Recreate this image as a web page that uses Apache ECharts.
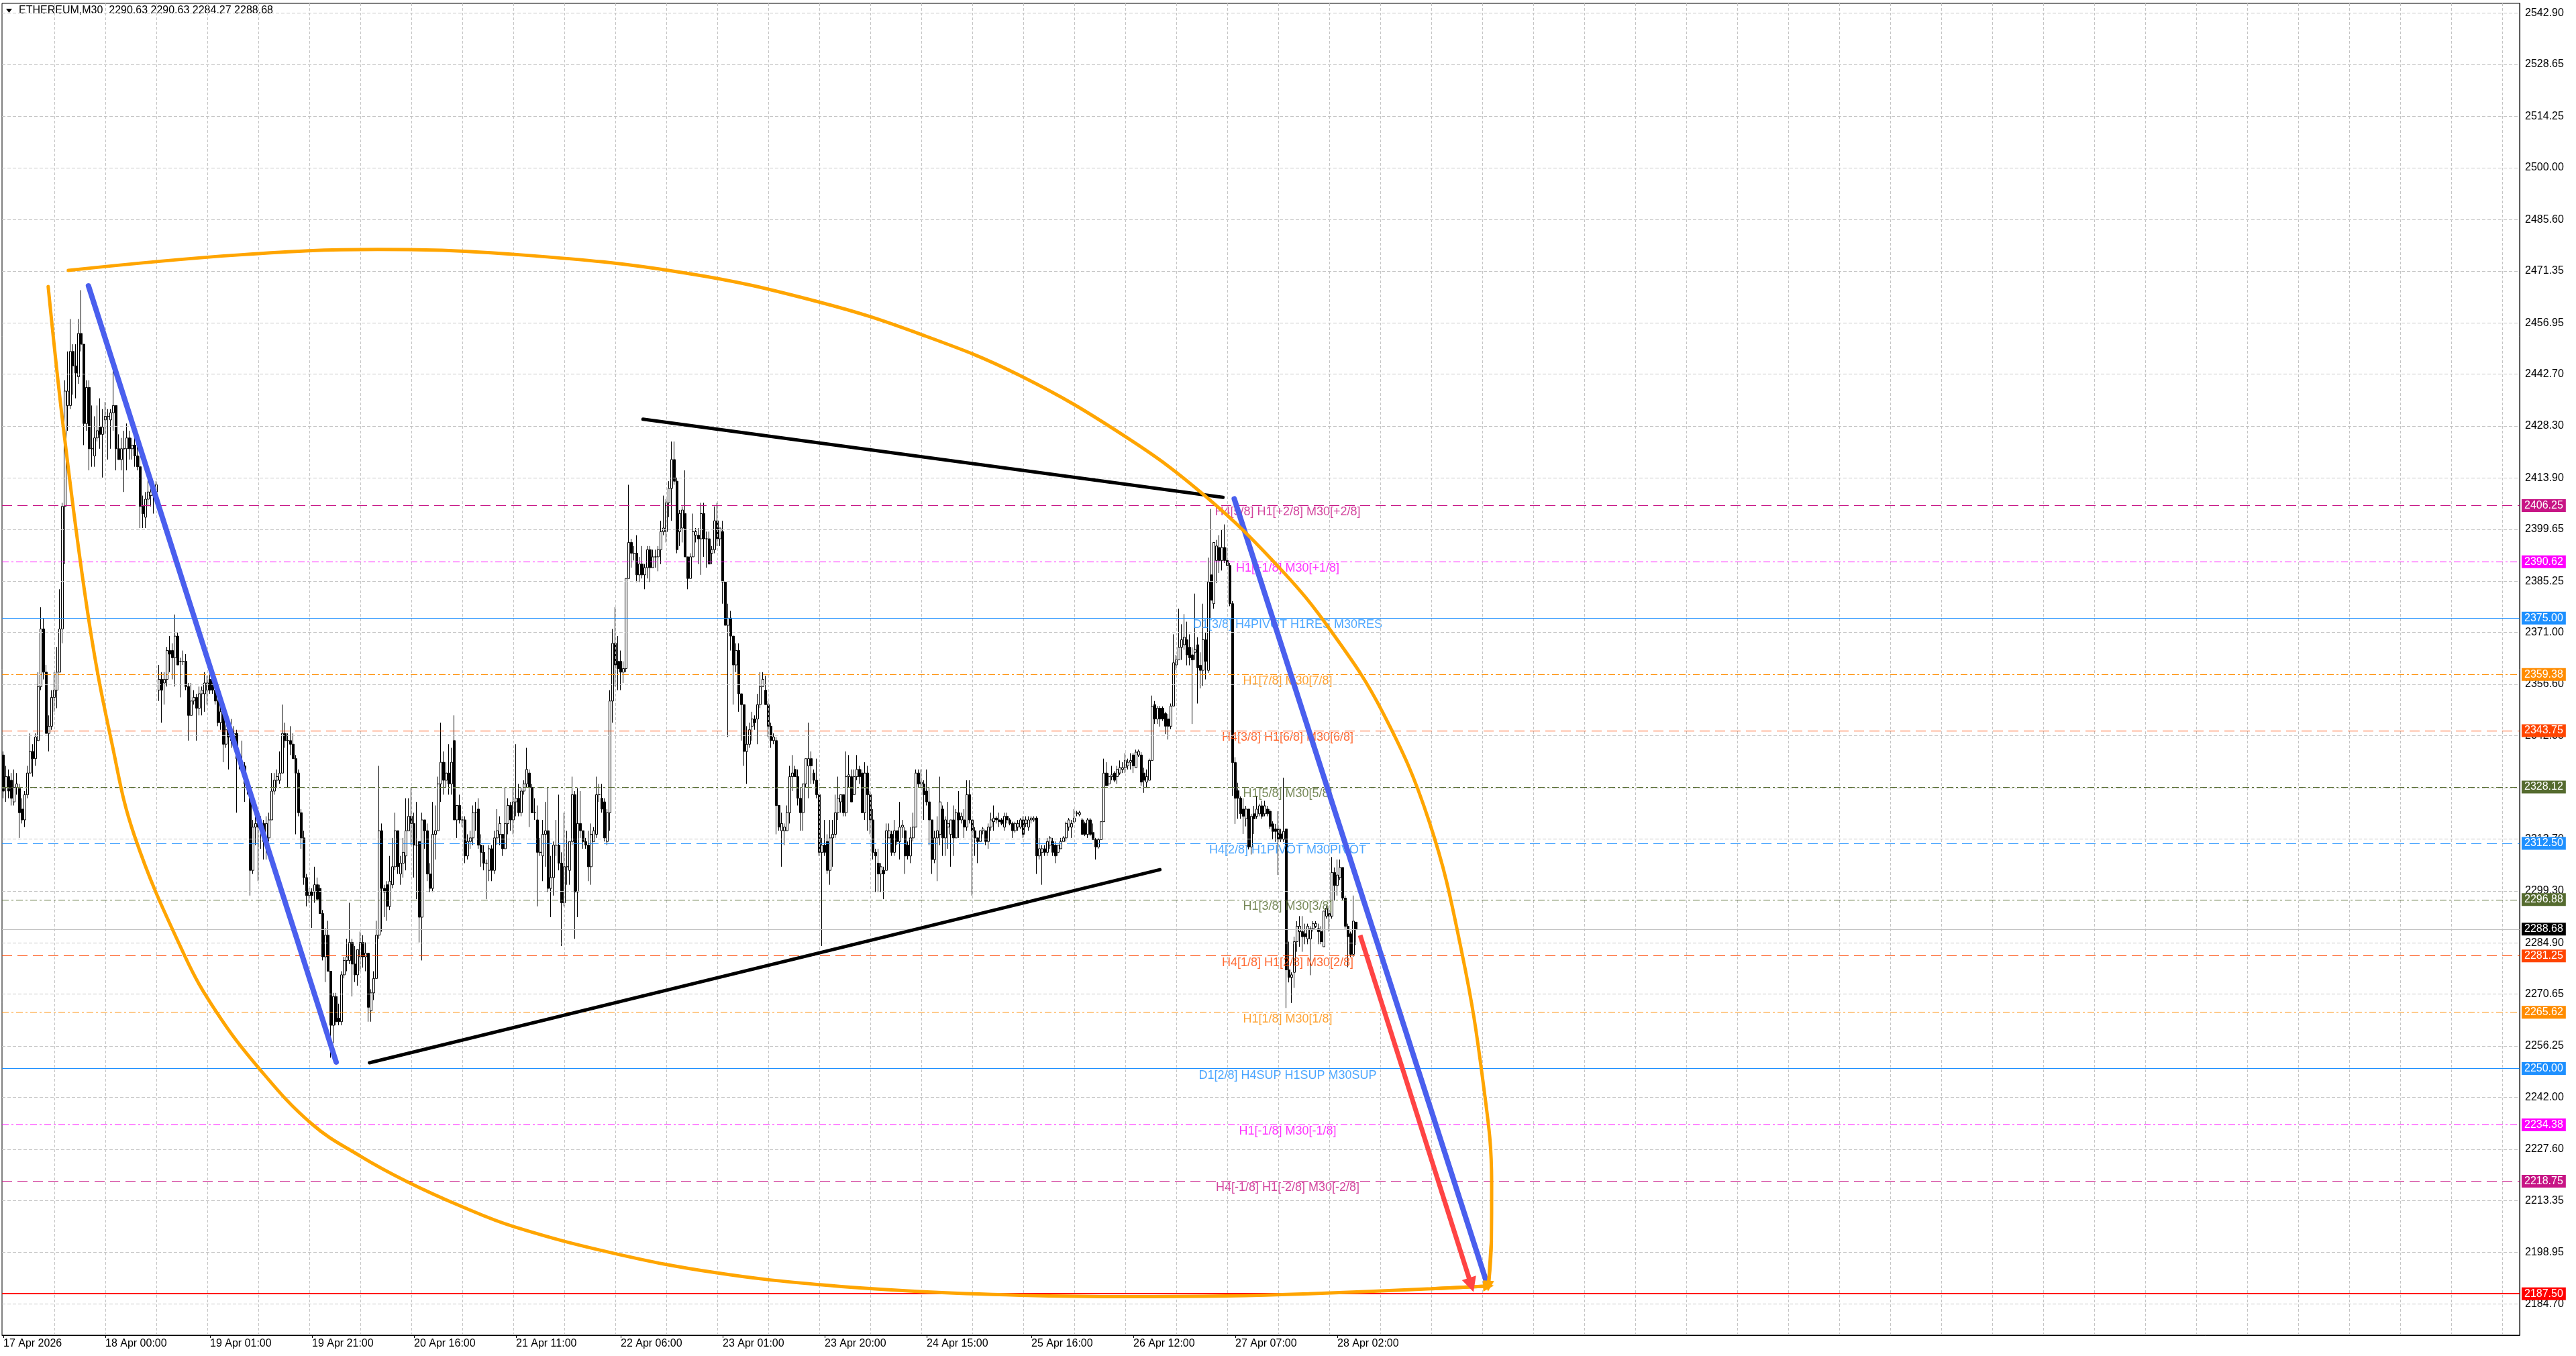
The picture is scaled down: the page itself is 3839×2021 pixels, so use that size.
<!DOCTYPE html>
<html>
<head>
<meta charset="utf-8">
<title>ETHEREUM,M30</title>
<script src="https://cdn.jsdelivr.net/npm/echarts@6/dist/echarts.min.js"></script>
<style>
  html, body { margin: 0; padding: 0; background: #fff; overflow: hidden; }
  #chart { width: 3839px; height: 2021px; }
</style>
</head>
<body>
<div id="chart"></div>
<script>
// ETHEREUM M30 chart with murrey-style levels and hand drawn trend objects

const symbolName = 'ETHEREUM,M30';

// M30 bars, 17 Apr 2026 -> 28 Apr 2026 (20 bars per row)
const opens = [
  2337,2328,2331,2330,2324,2328,2328,2322,2319,2326,2332,2338,2336,2341,2356,2372,2360,2343,2345,2353,
  2355,2360,2372,2406,2434,2434,2449,2445,2442,2454,2451,2429,2439,2422,2420,2425,2428,2426,2430,2431,
  2430,2432,2434,2422,2419,2422,2422,2425,2422,2423,2420,2417,2406,2403,2408,2409,2409,2410,2355,2358,
  2357,2358,2366,2366,2364,2370,2363,2363,2363,2356,2348,2352,2353,2350,2354,2354,2355,2358,2358,2355,
  2352,2346,2349,2340,2344,2343,2341,2343,2336,2335,2334,2329,2328,2305,2317,2320,2316,2318,2313,2314,
  2319,2327,2330,2330,2332,2343,2341,2341,2340,2336,2332,2321,2314,2303,2298,2299,2299,2301,2300,2293,
  2281,2287,2277,2262,2270,2264,2263,2276,2280,2280,2285,2279,2276,2281,2285,2281,2282,2266,2271,2275,
  2287,2316,2300,2301,2295,2301,2306,2316,2304,2307,2309,2316,2320,2318,2312,2313,2292,2319,2316,2304,
  2300,2315,2316,2329,2335,2330,2332,2329,2341,2319,2323,2319,2319,2309,2313,2314,2321,2322,2312,2310,
  2307,2305,2311,2305,2314,2315,2315,2311,2318,2323,2319,2324,2325,2321,2327,2329,2332,2328,2321,2319,
  2310,2309,2315,2316,2300,2303,2312,2312,2307,2296,2306,2305,2313,2326,2299,2318,2316,2313,2312,2306,
  2313,2315,2326,2325,2324,2313,2321,2352,2368,2363,2363,2360,2361,2386,2396,2393,2393,2387,2390,2387,
  2389,2394,2389,2392,2392,2394,2399,2399,2407,2411,2419,2413,2399,2400,2404,2392,2386,2392,2398,2398,
  2397,2404,2397,2397,2393,2394,2402,2397,2399,2385,2373,2375,2370,2362,2366,2354,2351,2338,2340,2345,
  2347,2347,2351,2356,2355,2351,2345,2341,2341,2323,2316,2316,2316,2321,2331,2333,2331,2325,2321,2329,
  2334,2336,2332,2330,2326,2310,2312,2313,2305,2314,2315,2321,2324,2326,2321,2331,2331,2326,2331,2333,
  2332,2321,2332,2326,2319,2310,2307,2304,2305,2305,2314,2315,2310,2316,2313,2317,2316,2312,2309,2314,
  2317,2332,2329,2329,2327,2324,2319,2308,2314,2315,2322,2314,2317,2315,2319,2314,2321,2319,2319,2317,
  2326,2319,2316,2314,2313,2316,2316,2313,2317,2318.5,2319.5,2319,2319,2317,2320,2319,2318,2316,2317,2317,
  2319,2318,2317,2319,2319,2319.5,2309,2310,2311,2310,2312,2313,2312,2310,2311,2313,2314,2317,2317,2318.5,
  2320.8,2320.5,2319,2318,2315,2319,2315.5,2313.5,2311.5,2313.5,2318.5,2332,2329,2331,2332,2331,2332,2333,2333.5,2334,
  2335,2337,2333.5,2337,2337,2332,2329.5,2330,2335.5,2351,2347,2350,2350,2348.5,2347,2345,2350.6,2362,2363.4,2366.9,
  2367.6,2369,2366.9,2364.8,2365.5,2367.6,2361.9,2360.5,2369,2360.5,2387,2379,2391,2394.6,2391,2394.6,2391,2389.6,2379,2334.9,
  2327.1,2325,2322,2319.3,2322,2311.5,2320.7,2320,2320.7,2322.9,2320.7,2322,2321.4,2317.9,2316.5,2316.5,2315.1,2313.6,2316.5,2277.4,
  2275.3,2276.7,2285.2,2288,2288,2287.4,2286,2286,2288.8,2289.5,2288.8,2288,2283.8,2292.3,2293,2292.3,2304.4,2300.8,2303,2305.8,
  2297.3,2289.5,2287.4,2281.7,2290.63
];
const closes = [
  2327,2331,2327,2325,2328,2329,2321,2319,2326,2332,2338,2336,2342,2356,2372,2360,2343,2345,2353,2355,
  2360,2372,2406,2438,2438,2449,2445,2443,2454,2451,2429,2439,2422,2422,2425,2427,2426,2428,2431,2431,
  2432,2434,2422,2419,2422,2422,2425,2422,2423,2420,2417,2406,2404,2408,2410,2410,2409,2412,2358,2355,
  2358,2366,2365,2364,2370,2362,2363,2363,2356,2348,2352,2353,2350,2354,2355,2357,2357,2355,2355,2352,
  2346,2349,2340,2344,2342,2341,2343,2336,2335,2333,2329,2328,2305,2317,2318,2317,2318,2313,2318,2319,
  2327,2330,2331,2332,2343,2341,2341,2340,2336,2332,2321,2314,2303,2298,2299,2298,2301,2297,2293,2281,
  2287,2277,2262,2270,2263,2263,2276,2280,2281,2285,2279,2276,2283,2285,2281,2282,2267,2271,2275,2287,
  2316,2300,2299,2295,2302,2306,2316,2306,2307,2310,2316,2320,2318,2312,2312,2292,2319,2316,2304,2300,
  2315,2316,2329,2335,2330,2332,2329,2335,2319,2323,2319,2319,2309,2313,2314,2321,2321,2312,2310,2307,
  2307,2311,2305,2314,2316,2318,2311,2318,2323,2319,2324,2325,2321,2327,2329,2333,2328,2321,2321,2310,
  2310,2315,2316,2300,2303,2312,2312,2307,2296,2306,2306,2313,2326,2299,2318,2316,2313,2312,2306,2315,
  2316,2326,2326,2322,2314,2321,2352,2368,2362,2361,2360,2361,2386,2396,2393,2393,2387,2390,2387,2389,
  2394,2389,2392,2392,2394,2399,2400,2407,2411,2419,2413,2394,2404,2405,2392,2386,2392,2399,2399,2397,
  2404,2397,2397,2390,2394,2402,2397,2400,2385,2373,2375,2370,2362,2366,2354,2351,2338,2340,2344,2347,
  2346,2351,2356,2358,2351,2345,2341,2342,2323,2317,2318,2317,2321,2331,2332,2331,2325,2321,2329,2336,
  2336,2334,2330,2326,2310,2312,2310,2305,2314,2315,2321,2325,2326,2321,2331,2331.5,2324,2331,2333,2331,
  2321,2332,2326,2319,2310,2309,2304,2306,2304,2316,2316,2310,2316,2313,2317,2317.5,2309,2309,2314,2317,
  2332,2329,2329.5,2326,2324,2319,2308,2314,2316,2324,2314,2319,2318,2319,2314,2321,2319,2320,2317,2326,
  2319,2316,2314,2313,2316,2316.5,2313,2317,2319,2319.5,2319,2318.5,2318,2320,2319,2318,2316,2318,2318,2319,
  2315,2319,2319,2319.5,2319.5,2309,2311,2311,2310,2313,2314,2310,2309,2312,2313,2314,2318,2319,2318,2319.5,
  2321,2321,2315,2315,2319,2315,2313.5,2311.5,2313.5,2318.5,2332,2328.5,2331,2331.5,2330,2333,2333.5,2333.5,2335.5,2335,
  2335.5,2334,2337.8,2338,2329.5,2330,2331,2335.5,2350.5,2347,2350,2347,2347,2345,2345,2350.6,2362.6,2363.4,2366.9,2369,
  2369.7,2364.8,2364,2363.4,2366.2,2361.2,2360.5,2369,2363,2385,2380,2396,2395,2391,2394.6,2391,2389.6,2379,2334.9,2325,
  2325,2320.7,2320,2322,2311.5,2320,2319.3,2322,2322.9,2320,2322.9,2320.7,2317.2,2315.8,2315.8,2313.6,2313.6,2315.8,2277.4,2275.3,
  2276,2285.2,2289.5,2289.5,2286.6,2286.6,2289.5,2288.8,2290.2,2290.2,2288,2285.2,2293.7,2294.5,2292.3,2304.4,2300.8,2303.7,2305.8,2297.3,
  2289.5,2286.6,2281.7,2290.9,2288.68
];
const lows = [
  2325,2324,2325,2323,2323,2326,2314,2318,2317,2325,2332,2331,2334,2341,2355,2358,2343,2338,2344,2349,
  2350,2360,2368,2390,2427,2433,2437,2436,2440,2449,2423,2427,2416,2417,2417,2424,2422,2414,2426,2419,
  2422,2427,2416,2419,2416,2410,2416,2419,2419,2417,2416,2400,2400,2400,2406,2406,2404,2409,2352,2346,
  2351,2356,2360,2358,2356,2362,2353,2362,2355,2341,2348,2351,2341,2348,2348,2349,2351,2354,2354,2351,
  2345,2344,2335,2339,2333,2339,2339,2321,2333,2332,2324,2326,2298,2304,2312,2302,2311,2308,2308,2313,
  2319,2326,2328,2329,2332,2339,2328,2337,2336,2315,2320,2311,2301,2295,2296,2289,2296,2297,2293,2280,
  2274,2277,2253,2257,2262,2262,2262,2275,2277,2279,2270,2274,2273,2277,2278,2277,2263,2263,2269,2275,
  2286,2288,2292,2291,2294,2300,2305,2304,2301,2303,2305,2316,2312,2303,2297,2285,2280,2311,2302,2299,
  2299,2308,2316,2324,2326,2328,2326,2326,2319,2314,2318,2317,2307,2308,2311,2312,2316,2311,2306,2305,
  2297,2302,2302,2304,2312,2312,2309,2311,2315,2316,2315,2320,2320,2320,2326,2328,2317,2321,2319,2295,
  2309,2302,2306,2299,2292,2298,2309,2305,2284,2295,2301,2301,2312,2286,2292,2314,2311,2311,2302,2301,
  2313,2314,2324,2321,2313,2312,2316,2346,2356,2355,2355,2357,2360,2386,2389,2391,2385,2385,2386,2383,
  2386,2385,2389,2389,2388,2390,2398,2396,2403,2402,2412,2393,2395,2396,2392,2383,2386,2392,2396,2390,
  2387,2392,2389,2390,2390,2393,2395,2395,2379,2373,2342,2366,2351,2360,2349,2341,2334,2329,2339,2341,
  2344,2340,2350,2356,2351,2342,2339,2340,2315,2316,2306,2312,2316,2318,2327,2331,2323,2316,2316,2328,
  2325,2329,2329,2325,2309,2284,2309,2304,2301,2306,2314,2319,2321,2320,2320,2328,2324,2326,2330,2329,
  2321,2319,2316,2315,2308,2299,2299,2299,2297,2305,2314,2309,2309,2312,2308,2314,2304,2308,2307,2313,
  2317,2328,2328,2319,2323,2312,2304,2307,2302,2312,2309,2309,2311,2306,2309,2314,2314,2318,2314,2316,
  2318,2298,2309,2307,2313,2315,2312,2311,2316,2316,2318,2317,2317.5,2316,2318,2317.5,2314,2315.5,2316,2316.5,
  2314,2317,2316,2318,2318.5,2304,2308,2301,2309,2309,2311,2309,2307,2309,2311,2313,2313,2316,2314,2318,
  2320,2320,2315,2314.5,2314,2314.5,2313.5,2308,2311,2313.5,2318.5,2328.5,2328.5,2330,2329.5,2329,2331.5,2332,2332,2333,
  2333,2332,2333.5,2336.5,2328.5,2326.5,2328,2330,2335.5,2345.6,2345.6,2344.9,2346.5,2342.8,2341.3,2344.2,2350.6,2360.5,2363.4,2363.4,
  2366.2,2361.9,2361.9,2345.6,2363.4,2351.3,2355.5,2356.2,2358,2359.8,2375,2377.6,2384.7,2387.5,2388.2,2390.3,2389.6,2378.3,2325.7,2317.9,
  2319.3,2319.3,2315.1,2317.2,2310.8,2309.4,2315.1,2319.3,2320,2319.3,2320,2320,2316.5,2313.6,2312.9,2303.7,2312.9,2312.9,2266.8,2273.9,
  2268.2,2272.4,2282.4,2283.8,2282.4,2284.5,2284.5,2275.9,2288,2289,2284.5,2284.5,2283.8,2291.6,2288,2291.6,2296.6,2298,2302.3,2296.6,
  2288.8,2278.1,2281,2281,2284.27
];
const highs = [
  2338,2334,2333,2332,2333,2332,2329,2325,2327,2334,2343,2340,2343,2360,2378,2375,2362,2348,2355,2360,
  2367,2383,2407,2441,2449,2458,2451,2451,2458,2466,2451,2441,2441,2434,2431,2434,2436,2433,2435,2433,
  2433,2444,2434,2426,2425,2427,2429,2427,2425,2425,2423,2420,2409,2410,2414,2411,2413,2413,2362,2360,
  2360,2367,2370,2368,2376,2371,2364,2366,2365,2357,2357,2355,2354,2356,2356,2360,2359,2362,2360,2356,
  2353,2351,2350,2348,2346,2347,2345,2344,2336,2341,2335,2330,2328,2319,2321,2320,2320,2319,2320,2321,
  2332,2332,2333,2338,2351,2346,2343,2345,2343,2337,2333,2322,2316,2304,2300,2300,2306,2303,2301,2294,
  2289,2291,2277,2271,2271,2268,2277,2281,2286,2296,2286,2284,2283,2288,2287,2285,2282,2272,2277,2291,
  2334,2318,2301,2302,2309,2314,2321,2316,2309,2314,2325,2325,2328,2321,2324,2313,2321,2319,2318,2307,
  2324,2323,2331,2346,2338,2335,2340,2339,2348,2323,2326,2320,2320,2315,2316,2323,2324,2325,2315,2312,
  2308,2312,2312,2316,2322,2320,2315,2328,2325,2324,2328,2340,2329,2328,2330,2339,2333,2329,2325,2323,
  2314,2319,2324,2328,2309,2313,2319,2326,2310,2321,2316,2313,2331,2327,2328,2327,2316,2314,2316,2318,
  2317,2331,2329,2329,2325,2322,2355,2372,2378,2370,2366,2363,2386,2412,2397,2395,2398,2392,2395,2390,
  2395,2395,2394,2394,2395,2402,2409,2408,2413,2424,2424,2414,2405,2406,2416,2392,2393,2404,2400,2400,
  2407,2407,2399,2399,2395,2406,2407,2400,2402,2385,2379,2377,2370,2368,2368,2354,2351,2345,2346,2349,
  2348,2354,2360,2360,2359,2352,2346,2343,2342,2323,2321,2318,2323,2334,2337,2334,2333,2328,2329,2336,
  2346,2338,2333,2336,2326,2314,2319,2315,2319,2319,2326,2331,2326,2326,2338,2337,2333,2333,2337,2334,
  2333,2335,2334,2327,2322,2311,2311,2307,2306,2318,2318,2316,2319,2316,2324,2319,2317,2313,2317,2321,
  2333,2333,2333,2330,2333,2328,2319,2316,2320,2331,2323,2320,2324,2319,2323,2322,2327,2321,2322,2330,
  2330,2319,2317,2314,2316,2317,2316,2318,2321,2323,2320,2321,2319.5,2321,2321,2319.5,2318.5,2318.5,2319,2319.5,
  2320,2320,2320,2320,2320,2320,2314,2312,2312,2314,2314.5,2314,2313,2312,2314,2314.5,2318.5,2319.5,2319,2322,
  2321.5,2321.5,2319.5,2318.5,2319.5,2319.5,2318,2314,2314,2318.5,2336,2335,2332,2334,2332.5,2334,2335.5,2335,2337.5,2336,
  2337.5,2337.5,2338.5,2338.5,2337.8,2333.5,2333,2336,2353.5,2352,2350.6,2350.6,2350.5,2349,2348.4,2351.3,2370.5,2364.8,2377.6,2373.3,
  2376.1,2374,2370.5,2366.9,2381.8,2369.7,2365.5,2379,2371,2391.8,2405.3,2396,2396.7,2398,2399.6,2401,2394.6,2390.3,2379.7,2336.4,
  2329.3,2325.5,2325,2322.9,2322,2320.7,2322.9,2325.7,2323.5,2324.3,2324.3,2322.9,2322,2318.6,2317.9,2321.4,2316.5,2330.7,2316.5,2285.2,
  2276.7,2286.6,2290.9,2292.3,2292.3,2290.2,2290.2,2289.5,2290.9,2290.9,2290.2,2289.5,2293.7,2295.2,2294.5,2308.7,2305.8,2308,2308,2305.8,
  2298,2290.2,2288,2298,2290.63
];

// time scale captions and the bar each one sits on
const timeLabels = ['17 Apr 2026','18 Apr 00:00','19 Apr 01:00','19 Apr 21:00','20 Apr 16:00','21 Apr 11:00','22 Apr 06:00',
  '23 Apr 01:00','23 Apr 20:00','24 Apr 15:00','25 Apr 16:00','26 Apr 12:00','27 Apr 07:00','28 Apr 02:00'];
const labelBars = [0,38,77,115,153,191,230,268,306,344,383,421,459,497];

// price scale
const priceTicks = [2542.90,2528.65,2514.25,2500.00,2485.60,2471.35,2456.95,2442.70,2428.30,2413.90,2399.65,2385.25,2371.00,
  2356.60,2342.35,2327.95,2313.70,2299.30,2284.90,2270.65,2256.25,2242.00,2227.60,2213.35,2198.95,2184.70];

// horizontal levels
const levelPrices = [2406.25,2390.62,2375.00,2359.38,2343.75,2328.12,2312.50,2296.88,2281.25,2265.62,2250.00,2234.38,2218.75];
const levelNames = ['H4[5/8] H1[+2/8] M30[+2/8]','H1[+1/8] M30[+1/8]','D1[3/8] H4PIVOT H1RES M30RES','H1[7/8] M30[7/8]',
  'H4[3/8] H1[6/8] M30[6/8]','H1[5/8] M30[5/8]','H4[2/8] H1PIVOT M30PIVOT','H1[3/8] M30[3/8]','H4[1/8] H1[2/8] M30[2/8]',
  'H1[1/8] M30[1/8]','D1[2/8] H4SUP H1SUP M30SUP','H1[-1/8] M30[-1/8]','H4[-1/8] H1[-2/8] M30[-2/8]'];
const stopLevel = 2187.50;

// drawn objects, [bar, price]
const arcLower = [[16.7,2467.0],[22.9,2424.5],[32.1,2373.2],[40.4,2340.4],[48.8,2314.7],[67.5,2281.4],[79.4,2265.7],
  [95.2,2250.1],[114.8,2234.7],[133,2225.7],[150.2,2218.7],[170.8,2211.7],[190.3,2206.1],[227.6,2198.7],[264.9,2193.4],
  [304.3,2190.0],[341.6,2188.1],[378.9,2187.1],[418.3,2186.7],[455.6,2186.9],[486.3,2187.5],[532,2188.9],[553.3,2189.65]];
const arcUpper = [[24.2,2471.5],[87.9,2475.8],[139.5,2477.3],[192.9,2475.8],[253.8,2470.8],[304,2462.7],[342,2453.7],
  [378.8,2442.3],[418.4,2425.2],[447.9,2408.8],[475.5,2388.9],[494.3,2371.8],[513.8,2349.0],[531.2,2318.6],[543.4,2282.2],
  [551.4,2245.7],[554.5,2218.3],[554.4,2202.1],[553.3,2189.65]];
const blueLeft = [[31.7,2467.2],[124,2251.8]];
const blueRight = [[458.6,2408.1],[552.9,2190.0]];
const blackUpper = [[238.3,2430.2],[454.4,2408.5]];
const blackLower = [[136.4,2251.6],[430.9,2305.2]];
const redArrow = [[505.5,2287.0],[546.9,2189.95]];

// ---- layout / style ----
const slotCount = 938;        // bar slots on screen incl. right shift
const captionBar = 478.5;     // where level captions are centred
const levelColors = ['#C71585','#FF00FF','#1E90FF','#FF8C00','#FF4500','#556B2F','#1E90FF','#556B2F','#FF4500','#FF8C00','#1E90FF','#FF00FF','#C71585'];
const DASH = [15, 8], DASHDOT = [10, 4, 3, 4];
const levelDash = [DASH, DASHDOT, 'solid', DASHDOT, DASH, DASHDOT, DASH, DASHDOT, DASH, DASHDOT, 'solid', DASHDOT, DASH];
const FONT = 'Liberation Sans, Arial, sans-serif';
const ORANGE = '#FFA500';

const last = opens.length - 1;
const candles = opens.map((o, i) => [o, closes[i], lows[i], highs[i]]);
const slots = [];
for (let i = 0; i < slotCount; i++) slots.push(String(i));
const vGrid = [];
for (let b = 19; b < slotCount; b += 19) vGrid.push(b);

const isLabelBar = (idx) => labelBars.indexOf(idx) >= 0;
const header = symbolName + '  ' + [opens[last], highs[last], lows[last], closes[last]].map(v => v.toFixed(2)).join(' ');

function priceBox(price, bg, lineStyle) {
  return {
    yAxis: price,
    lineStyle: Object.assign({ opacity: 1 }, lineStyle),
    label: {
      show: true, position: 'end', distance: 3, formatter: price.toFixed(2),
      color: '#fff', backgroundColor: bg, padding: [2, 4, 1, 4],
      fontSize: 16, fontFamily: FONT
    }
  };
}

const chart = echarts.init(document.getElementById('chart'));

const option = {
  animation: false,
  backgroundColor: '#ffffff',
  textStyle: { fontFamily: FONT },
  grid: { left: 3, right: 84, top: 5, bottom: 31, show: true, borderColor: '#000', borderWidth: 1, backgroundColor: '#fff' },
  xAxis: [
    {
      type: 'category', data: slots, boundaryGap: true,
      axisLine: { show: true, lineStyle: { color: '#000', width: 1 } },
      axisTick: { show: true, alignWithLabel: true, interval: isLabelBar, length: 4, lineStyle: { color: '#000' } },
      axisLabel: {
        interval: isLabelBar, align: 'left', margin: 5, fontSize: 16, color: '#000', fontFamily: FONT,
        formatter: (v) => { const k = labelBars.indexOf(Number(v)); return k >= 0 ? timeLabels[k] : ''; }
      },
      splitLine: { show: false }
    },
    { type: 'value', min: -0.5, max: slotCount - 0.5, show: false }
  ],
  yAxis: {
    type: 'value', position: 'right', min: 2176.0, max: 2545.6, scale: true,
    axisLine: { show: true, onZero: false, lineStyle: { color: '#000' } },
    axisTick: { show: false }, axisLabel: { show: false }, splitLine: { show: false }
  },
  graphic: [
    { type: 'polygon', shape: { points: [[9, 13], [18, 13], [13.5, 19]] }, style: { fill: '#000' } },
    { type: 'text', left: 28, top: 8, style: { text: header, font: '16px ' + FONT, fill: '#000' } }
  ],
  series: [
    // grid + price scale captions
    {
      type: 'line', xAxisIndex: 1, yAxisIndex: 0, data: [], z: 1, silent: true,
      markLine: {
        silent: true, symbol: ['none', 'none'], animation: false,
        data: vGrid.map(b => ({ xAxis: b, lineStyle: { color: '#c4c4c4', type: [4, 3], width: 1, opacity: 1 }, label: { show: false } }))
          .concat(priceTicks.map(v => ({
            yAxis: v, lineStyle: { color: '#c4c4c4', type: [5, 3], width: 1, opacity: 1 },
            label: { show: true, position: 'end', distance: 8, formatter: v.toFixed(2), color: '#000', fontSize: 16, fontFamily: FONT }
          })))
      }
    },
    // level lines + coloured price boxes
    {
      type: 'line', xAxisIndex: 1, yAxisIndex: 0, data: [], z: 2, silent: true,
      markLine: {
        silent: true, symbol: ['none', 'none'], animation: false,
        data: levelPrices.map((p, k) => priceBox(p, levelColors[k], { color: levelColors[k], type: levelDash[k], width: 1 }))
          .concat([
            priceBox(closes[last], '#000', { color: '#c0c0c0', type: 'solid', width: 1 }),
            priceBox(stopLevel, '#FF0000', { color: '#FF0000', type: 'solid', width: 2 })
          ])
      }
    },
    {
      type: 'candlestick', xAxisIndex: 0, yAxisIndex: 0, data: candles, z: 3, barWidth: 3,
      itemStyle: { color: '#ffffff', color0: '#000000', borderColor: '#000000', borderColor0: '#000000', borderWidth: 1 }
    },
    // level captions
    {
      type: 'scatter', xAxisIndex: 1, yAxisIndex: 0, symbolSize: 0, z: 4, silent: true,
      label: { show: true, position: 'inside', offset: [0, 10], fontSize: 18, fontFamily: FONT },
      data: levelPrices.map((p, k) => ({ value: [captionBar, p], label: { formatter: levelNames[k], color: levelColors[k] } }))
    },
    // drawn objects
    { type: 'line', xAxisIndex: 1, yAxisIndex: 0, z: 5, data: blackUpper, showSymbol: false, silent: true, lineStyle: { color: '#000', width: 5, cap: 'round' } },
    { type: 'line', xAxisIndex: 1, yAxisIndex: 0, z: 5, data: blackLower, showSymbol: false, silent: true, lineStyle: { color: '#000', width: 5, cap: 'round' } },
    { type: 'line', xAxisIndex: 1, yAxisIndex: 0, z: 5, data: blueLeft, showSymbol: false, silent: true, lineStyle: { color: '#4A5FEE', width: 8, cap: 'round' } },
    { type: 'line', xAxisIndex: 1, yAxisIndex: 0, z: 5, data: blueRight, showSymbol: false, silent: true, lineStyle: { color: '#4A5FEE', width: 8, cap: 'round' } },
    { type: 'line', xAxisIndex: 1, yAxisIndex: 0, z: 6, data: arcLower, smooth: 0.4, showSymbol: false, silent: true, lineStyle: { color: ORANGE, width: 5, cap: 'round' } },
    { type: 'line', xAxisIndex: 1, yAxisIndex: 0, z: 6, data: arcUpper, smooth: 0.4, showSymbol: false, silent: true, lineStyle: { color: ORANGE, width: 5, cap: 'round' } },
    {
      type: 'lines', coordinateSystem: 'cartesian2d', xAxisIndex: 1, yAxisIndex: 0, z: 7, silent: true,
      symbol: ['none', 'triangle'], symbolSize: [16, 16],
      lineStyle: { color: ORANGE, width: 5, opacity: 1 },
      data: [{ coords: arcLower.slice(-2) }, { coords: arcUpper.slice(-2) }]
    },
    {
      type: 'lines', coordinateSystem: 'cartesian2d', xAxisIndex: 1, yAxisIndex: 0, z: 7, silent: true,
      symbol: ['none', 'triangle'], symbolSize: [22, 22],
      lineStyle: { color: '#FF4444', width: 7, opacity: 1 },
      data: [{ coords: redArrow }]
    }
  ]
};

chart.setOption(option);
</script>
</body>
</html>
